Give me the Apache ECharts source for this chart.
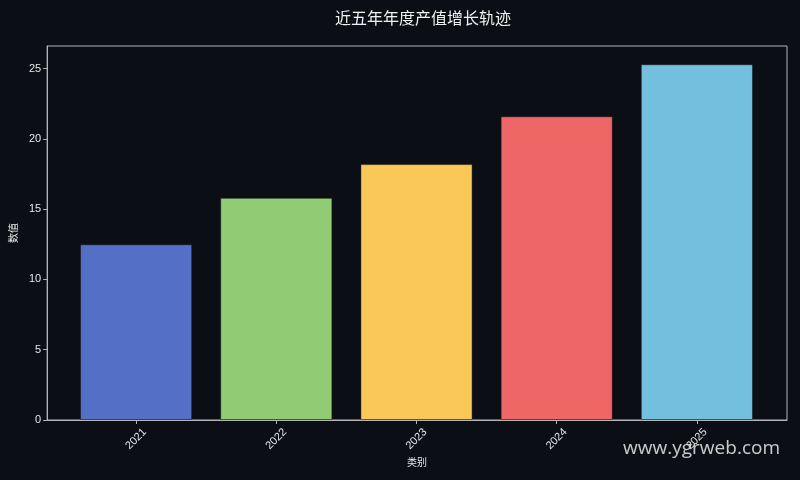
<!DOCTYPE html>
<html>
<head>
<meta charset="utf-8">
<script src="https://cdn.jsdelivr.net/npm/echarts@6/dist/echarts.min.js"></script>
<style>
  html, body { margin: 0; padding: 0; background: #0b0e14; }
  #chart { width: 800px; height: 480px; }
</style>
</head>
<body>
<div id="chart"></div>
<script>
var categories = ['2021', '2022', '2023', '2024', '2025'];
var values = [12.5, 15.8, 18.2, 21.6, 25.3];
var barColors = ['#5470c6', '#91cc75', '#fac858', '#ee6666', '#73c0de'];
var yTicks = [0, 5, 10, 15, 20, 25];

var chart = echarts.init(document.getElementById('chart'));
var font = "'Noto Sans CJK SC', 'DejaVu Sans', sans-serif";
var tickFont = "'Liberation Sans', 'DejaVu Sans', sans-serif";
var textColor = '#e6e6e6';
var spineColor = '#b4b4b4';
var yMax = 26.6;

// 外框 grid 0 画坐标轴和刻度, grid 1 放柱子 (两侧留边距)
chart.setOption({
    backgroundColor: '#0b0e14',
    animation: false,
    title: {
        text: '近五年年度产值增长轨迹',
        left: 418, top: 5, textAlign: 'center',
        textStyle: { color: '#f0f0f0', fontSize: 16, fontWeight: 'normal', fontFamily: font }
    },
    grid: [
        { left: 46, right: 13, top: 46, bottom: 60, show: true, borderColor: spineColor, borderWidth: 1, backgroundColor: 'transparent' },
        { left: 66, right: 33, top: 46, bottom: 60 }
    ],
    xAxis: [
        {
            type: 'value', gridIndex: 0, min: 0, max: 1,
            axisLine: { show: true, lineStyle: { color: spineColor } },
            axisTick: { show: false }, axisLabel: { show: false }, splitLine: { show: false },
            name: '类别', nameLocation: 'middle', nameGap: 37,
            nameTextStyle: { color: textColor, fontSize: 10, fontFamily: font }
        },
        {
            type: 'category', gridIndex: 1, data: categories,
            axisLine: { show: false },
            axisTick: { show: true, alignWithLabel: true, length: 4, lineStyle: { color: spineColor } },
            axisLabel: {
                rotate: 45, align: 'center', verticalAlign: 'middle', margin: 19,
                color: textColor, fontSize: 11, fontFamily: tickFont
            }
        }
    ],
    yAxis: [
        {
            type: 'value', gridIndex: 0, min: 0, max: yMax, interval: 5,
            axisLine: { show: true, lineStyle: { color: spineColor } },
            axisTick: { show: true, length: 4, lineStyle: { color: spineColor } },
            axisLabel: {
                color: textColor, fontSize: 11, fontFamily: tickFont, margin: 6,
                showMaxLabel: false,
                formatter: function (v) { return yTicks.indexOf(v) >= 0 ? String(v) : ''; }
            },
            splitLine: { show: false },
            name: '数值', nameLocation: 'middle', nameGap: 28, nameRotate: 90,
            nameTextStyle: { color: textColor, fontSize: 10, fontFamily: font }
        },
        {
            type: 'value', gridIndex: 1, min: 0, max: yMax, show: false
        }
    ],
    series: [{
        type: 'bar', xAxisIndex: 1, yAxisIndex: 1,
        barWidth: '80%',
        data: values.map(function (v, i) {
            return {
                value: v,
                itemStyle: { color: barColors[i], borderColor: 'rgba(11,14,20,0.45)', borderWidth: 1 }
            };
        })
    }],
    graphic: [{
        type: 'text', right: 20, top: 439,
        style: { text: 'www.ygrweb.com', fill: 'rgba(235,235,235,0.85)', fontSize: 19, fontFamily: "'Open Sans', 'DejaVu Sans', sans-serif" }
    }]
});
</script>
</body>
</html>
